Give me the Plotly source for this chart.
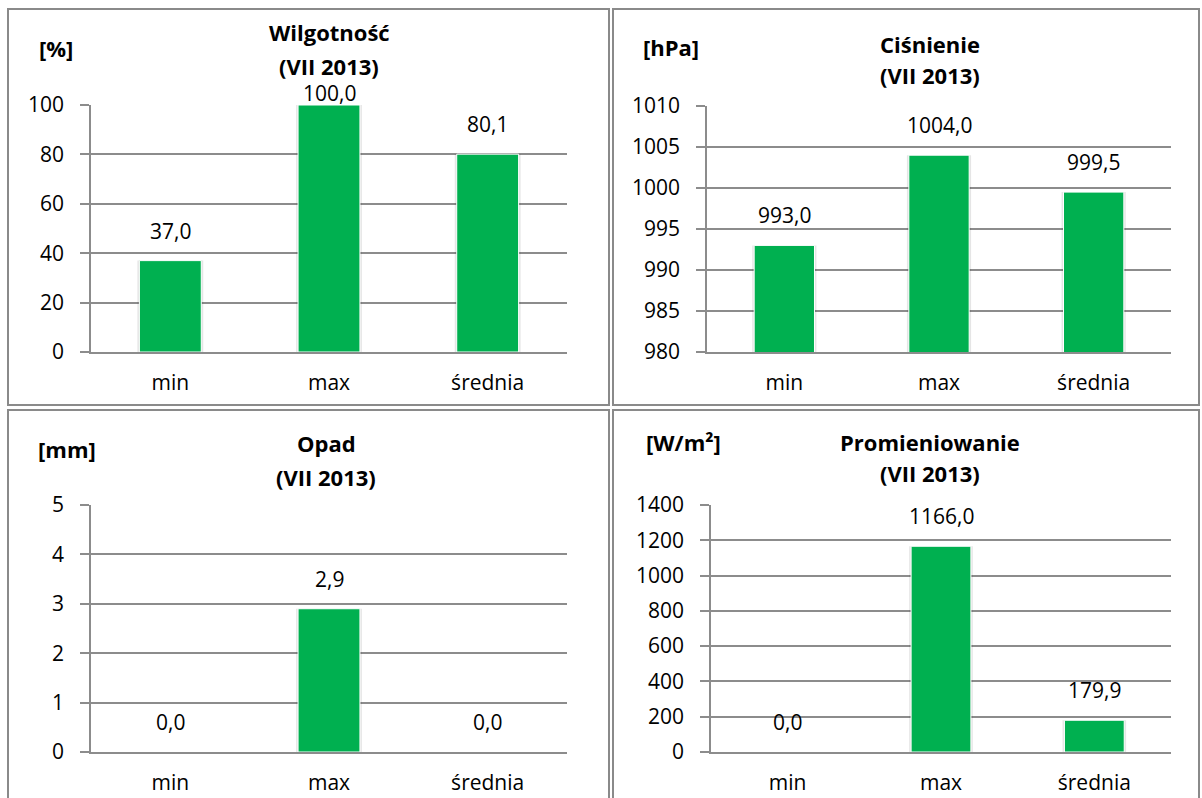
import plotly.graph_objects as go

# ---- data ----
categories = ["min", "max", "średnia"]
wilgotnosc = [37.0, 100.0, 80.1]
cisnienie = [993.0, 1004.0, 999.5]
opad = [0.0, 2.9, 0.0]
promieniowanie = [0.0, 1166.0, 179.9]

units = ["[%]", "[hPa]", "[mm]", "[W/m²]"]
titles = ["Wilgotność", "Ciśnienie", "Opad", "Promieniowanie"]
subtitle = "(VII 2013)"
y_ranges = [(0, 100, 20), (980, 1010, 5), (0, 5, 1), (0, 1400, 200)]
series = [wilgotnosc, cisnienie, opad, promieniowanie]

W, H = 1202, 798
GREEN = "#00B050"
GRID = "#8c8c8c"
FONT = "Open Sans"
FS = 21
TFS = 22

def px(x):
    return x / W

def py(y):
    return 1 - y / H

# plot area pixel boxes: (x0, x1, ytop, ybottom)
boxes = [(91, 567, 105, 352), (707, 1171, 106, 352), (91, 567, 505, 752), (711, 1171, 505, 752)]
# panel frames
frames = [(8, 609, 9, 405), (613, 1199, 9, 405), (8, 609, 410, 800), (613, 1199, 410, 800)]
# text positions: (unit x, unit y, title x, line1 y, line2 y)
text_pos = [(56, 48, 329, 32, 66), (671, 47, 930, 44, 75), (67, 449, 326, 443, 477), (683, 442, 930, 442, 473)]

fig = go.Figure()
annotations = []
shapes = []

for i in range(4):
    ax = "" if i == 0 else str(i + 1)
    x0, x1, yt, yb = boxes[i]
    ymin, ymax, dt = y_ranges[i]
    vals = series[i]
    # soft shadow behind each bar
    fig.add_trace(go.Bar(
        x=categories, y=vals, xaxis="x" + ax, yaxis="y" + ax,
        marker=dict(color="rgba(0,0,0,0.10)", line=dict(width=0)),
        width=0.415, showlegend=False, hoverinfo="skip",
    ))
    fig.add_trace(go.Bar(
        x=categories, y=vals, xaxis="x" + ax, yaxis="y" + ax,
        marker=dict(color=GREEN, line=dict(color="white", width=1)),
        width=0.39, showlegend=False, hoverinfo="x+y",
    ))
    fig.update_layout(**{
        "xaxis" + ax: dict(
            domain=[px(x0), px(x1)], anchor="y" + ax,
            showline=True, linecolor=GRID, linewidth=1.5,
            ticks="", showgrid=False, fixedrange=True, automargin=False,
            tickfont=dict(family=FONT, size=FS, color="black"),
            ticklabelstandoff=11,
        ),
        "yaxis" + ax: dict(
            domain=[py(yb), py(yt)], anchor="x" + ax,
            range=[ymin, ymax], dtick=dt, tick0=ymin,
            showline=True, linecolor=GRID, linewidth=1.5,
            ticks="outside", ticklen=9, tickcolor=GRID, tickwidth=1.5,
            showgrid=True, gridcolor=GRID, gridwidth=1.5,
            zeroline=False, fixedrange=True, automargin=False,
            tickfont=dict(family=FONT, size=FS, color="black"),
            ticklabelstandoff=12,
        ),
    })
    plot_h = yb - yt
    for c, v in zip(categories, vals):
        above = (ymax - v) / (ymax - ymin) * plot_h
        shift = 14 if above > 20 else -4
        annotations.append(dict(
            x=c, y=v, xref="x" + ax, yref="y" + ax,
            text=f"{v:.1f}".replace(".", ","), showarrow=False,
            yanchor="bottom", yshift=shift,
            font=dict(family=FONT, size=FS, color="black"),
        ))
    ux, uy, tx, l1, l2 = text_pos[i]
    annotations.append(dict(x=px(ux), y=py(uy), xref="paper", yref="paper", text="<b>" + units[i] + "</b>",
                            showarrow=False, xanchor="center", yanchor="middle",
                            font=dict(family=FONT, size=TFS, color="black")))
    annotations.append(dict(x=px(tx), y=py(l1), xref="paper", yref="paper", text="<b>" + titles[i] + "</b>",
                            showarrow=False, xanchor="center", yanchor="middle",
                            font=dict(family=FONT, size=TFS, color="black")))
    annotations.append(dict(x=px(tx), y=py(l2), xref="paper", yref="paper", text="<b>" + subtitle + "</b>",
                            showarrow=False, xanchor="center", yanchor="middle",
                            font=dict(family=FONT, size=TFS, color="black")))
    fx0, fx1, fy0, fy1 = frames[i]
    shapes.append(dict(type="rect", xref="paper", yref="paper",
                       x0=px(fx0), x1=px(fx1), y0=py(fy1), y1=py(fy0),
                       line=dict(color="#8a8a8a", width=2), fillcolor="rgba(0,0,0,0)", layer="below"))

fig.update_layout(
    width=W, height=H, margin=dict(l=0, r=0, t=0, b=0, pad=0, autoexpand=False), autosize=False,
    paper_bgcolor="white", plot_bgcolor="white", barmode="overlay",
    annotations=annotations, shapes=shapes, showlegend=False,
    font=dict(family=FONT, color="black"),
)

post = ("document.documentElement.style.margin='0';document.body.style.margin='0';"
        "document.body.style.padding='0';document.body.style.overflow='hidden';"
        "document.documentElement.style.overflow='hidden';")
fig.write_html("out.html", config={"displayModeBar": False}, post_script=post)
